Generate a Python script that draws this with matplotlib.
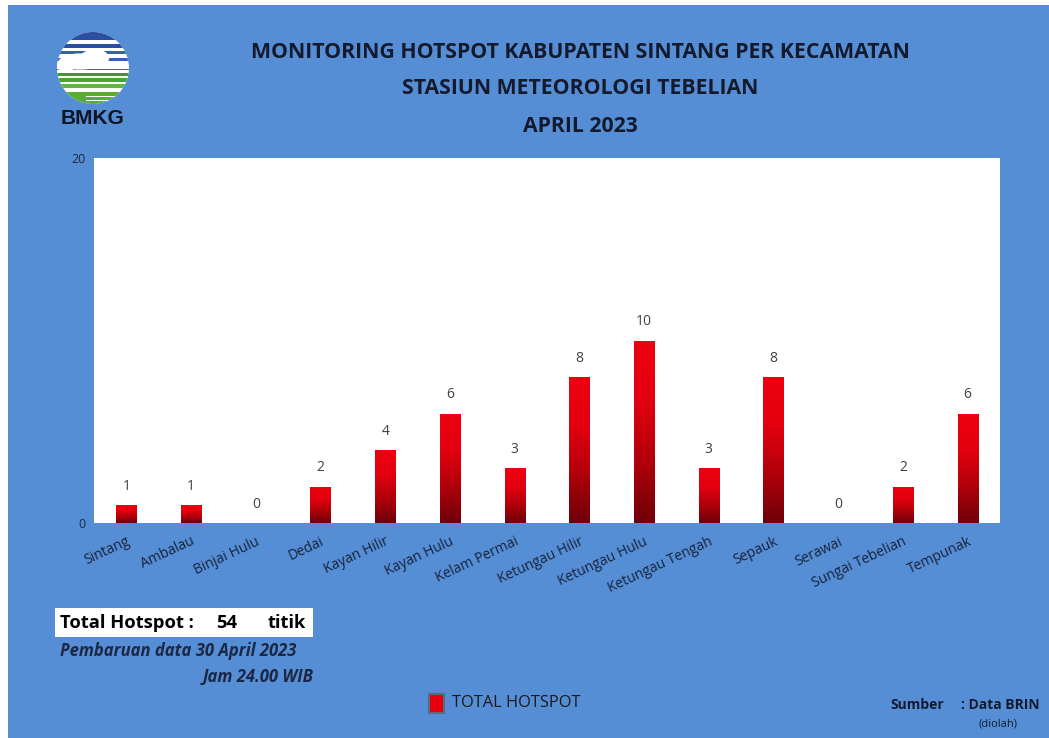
import matplotlib
matplotlib.use("Agg")
import matplotlib.pyplot as plt
import numpy as np
from matplotlib.colors import LinearSegmentedColormap
from matplotlib.patches import Rectangle, Circle, Ellipse

categories = ["Sintang", "Ambalau", "Binjai Hulu", "Dedai", "Kayan Hilir", "Kayan Hulu",
              "Kelam Permai", "Ketungau Hilir", "Ketungau Hulu", "Ketungau Tengah",
              "Sepauk", "Serawai", "Sungai Tebelian", "Tempunak"]
hotspots = [1, 1, 0, 2, 4, 6, 3, 8, 10, 3, 8, 0, 2, 6]
yticks = [0, 20]
title_lines = ["MONITORING HOTSPOT KABUPATEN SINTANG PER KECAMATAN",
               "STASIUN METEOROLOGI TEBELIAN",
               "APRIL 2023"]

BG = "#558ED5"
NAVY = "#1C2745"
W, H = 1049, 738
fig = plt.figure(figsize=(W / 100, H / 100), dpi=100, facecolor="white")
# blue panel
fig.patches.append(Rectangle((8 / W, 0), 1 - 8 / W, 1 - 5 / H, transform=fig.transFigure,
                             facecolor=BG, edgecolor="none", zorder=-10))

def fx(px):
    return px / W

def fy(py):
    return 1 - py / H

ax = fig.add_axes([fx(94), fy(523), fx(1000) - fx(94), fy(158) - fy(523)])
ax.set_facecolor("white")
for s in ax.spines.values():
    s.set_visible(False)

x = np.arange(len(categories))
bars = ax.bar(x, hotspots, width=0.31, color="none", edgecolor="none")
cmap = LinearSegmentedColormap.from_list("redgrad", ["#6e0008", "#b0000a", "#e3000f", "#ee0010"])
grad = np.linspace(0, 1, 256).reshape(-1, 1)
for b in bars:
    h = b.get_height()
    if h <= 0:
        continue
    x0 = b.get_x()
    im = ax.imshow(grad, extent=(x0, x0 + b.get_width(), 0, h), origin="lower",
                   cmap=cmap, aspect="auto", zorder=2)
    im.set_clip_path(b)

for xi, v in zip(x, hotspots):
    ax.annotate(str(v), (xi, v), xytext=(0, 8), textcoords="offset points",
                ha="center", va="bottom", fontsize=10, color="#404040", family="Open Sans")

ax.set_xlim(-0.5, len(categories) - 0.5)
ax.set_ylim(0, 20)
ax.set_yticks(yticks)
ax.set_yticklabels([str(t) for t in yticks], fontsize=9, color=NAVY, family="Open Sans")
ax.tick_params(axis="both", length=0, pad=6)
ax.set_xticks(x)
ax.set_xticklabels(categories, rotation=25, ha="right", va="top", rotation_mode="anchor",
                   fontsize=10, color="#18223c", family="Open Sans")
ax.tick_params(axis="x", pad=8)

# titles
for txt, py in zip(title_lines, [53, 88, 127]):
    fig.text(fx(580), fy(py), txt, ha="center", va="center", fontsize=15.3,
             fontweight="bold", color="#141a2e", family="Open Sans")

# logo
lax = fig.add_axes([fx(57), fy(104), 72 / W, 72 / H])
lax.set_xlim(-1, 1)
lax.set_ylim(-1, 1)
lax.axis("off")
circ = Circle((0, 0), 1, transform=lax.transData, facecolor="white", edgecolor="none")
lax.add_patch(circ)
stripes = [(0.78, 0.25, "#2a4ea0"), (0.56, 0.12, "#2a4ea0"), (0.38, 0.10, "#3560b0"),
           (0.20, 0.07, "#3560b0"), (-0.06, 0.03, "#606060"),
           (-0.22, 0.08, "#3f9a2c"), (-0.38, 0.09, "#4aa52e"), (-0.55, 0.10, "#5db83a"),
           (-1.05, 0.38, "#5aad2f")]
for yy, hh, c in stripes:
    r = Rectangle((-1, yy), 2, hh, facecolor=c, edgecolor="none")
    lax.add_patch(r)
    r.set_clip_path(circ)
for (cx, cy, ew, eh) in [(-0.35, 0.18, 1.2, 0.45), (0.05, 0.28, 0.8, 0.48), (-0.75, 0.08, 0.7, 0.3)]:
    e = Ellipse((cx, cy), ew, eh, facecolor="white", edgecolor="none")
    lax.add_patch(e)
    e.set_clip_path(circ)
for yy in [-0.80, -0.92]:
    r = Rectangle((-0.2, yy), 1.4, 0.03, facecolor="white", edgecolor="none")
    lax.add_patch(r)
    r.set_clip_path(circ)
fig.text(fx(92), fy(118), "BMKG", ha="center", va="center", fontsize=15, fontweight="bold",
         color="#0d1424", family="Liberation Sans")

# total box
fig.patches.append(Rectangle((fx(55), fy(637)), fx(313) - fx(55), (637 - 608) / H,
                             transform=fig.transFigure, facecolor="white", edgecolor="none"))
fig.text(fx(60), fy(623), "Total Hotspot :", ha="left", va="center", fontsize=13.2,
         fontweight="bold", color="black", family="Open Sans")
fig.text(fx(227), fy(623), "54", ha="center", va="center", fontsize=13.2,
         fontweight="bold", color="black", family="Open Sans")
fig.text(fx(287), fy(623), "titik", ha="center", va="center", fontsize=13.2,
         fontweight="bold", color="black", family="Open Sans")
fig.text(fx(60), fy(651), "Pembaruan data 30 April 2023", ha="left", va="center", fontsize=12,
         fontweight="bold", style="italic", color=NAVY, family="Open Sans")
fig.text(fx(313), fy(677), "Jam 24.00 WIB", ha="right", va="center", fontsize=12,
         fontweight="bold", style="italic", color=NAVY, family="Open Sans")

# legend
fig.patches.append(Rectangle((fx(429), fy(713)), 15 / W, 19 / H, transform=fig.transFigure,
                             facecolor="#e8000f", edgecolor="#5a6a80", linewidth=1.5))
fig.text(fx(452), fy(703), "TOTAL HOTSPOT", ha="left", va="center", fontsize=11.8,
         color="#1a1a1a", family="Open Sans")

# source
fig.text(fx(890), fy(705), "Sumber", ha="left", va="center", fontsize=10,
         fontweight="bold", color="#141a2e", family="Open Sans")
fig.text(fx(1040), fy(705), ": Data BRIN", ha="right", va="center", fontsize=10,
         fontweight="bold", color="#141a2e", family="Open Sans")
fig.text(fx(998), fy(724), "(diolah)", ha="center", va="center", fontsize=8,
         color="#141a2e", family="Open Sans")

fig.savefig("out.png", dpi=100, facecolor="white")
